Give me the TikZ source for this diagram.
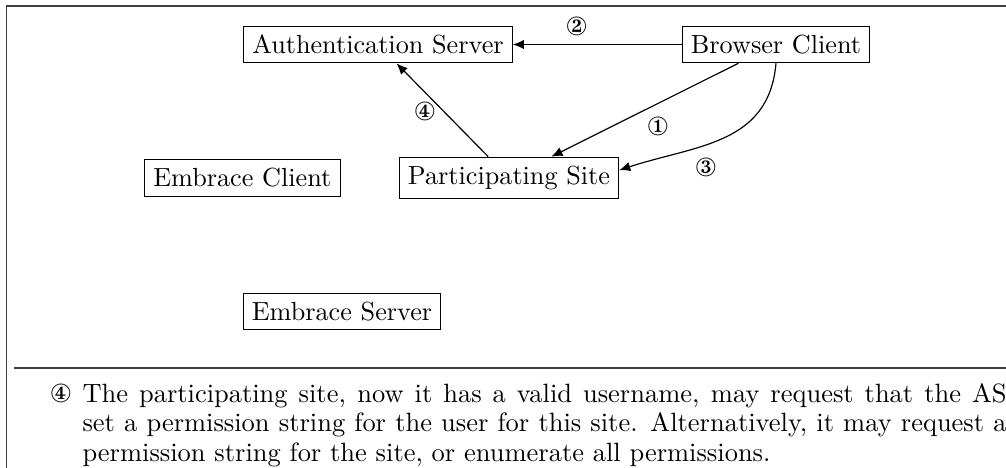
\documentclass[tikz,border=0pt]{standalone}
\usepackage{pifont}
\usetikzlibrary{arrows.meta}
\begin{document}
\begin{tikzpicture}[x=0.38168pt,y=0.38168pt,
  box/.style={draw, line width=0.4pt, inner sep=3.33pt},
  flow/.style={-{Latex[length=4.2pt,width=3.6pt]}, line width=0.45pt},
  num/.style={inner sep=0pt},
  rule/.style={line width=0.5pt, draw=black!75}]
\useasboundingbox (0,0) rectangle (1006,-468);
% frame and separator
\draw[rule] (6.5,-468) -- (6.5,-6) -- (1006,-6);
\draw[rule] (14,-368) -- (1006,-368);
% actors
\node[box] (as) at (378,-44.5) {Authentication Server};
\node[box] (bc) at (776,-44.5) {Browser Client};
\node[box] (ps) at (509,-177.8) {Participating Site};
\node[box] (ec) at (242.3,-177.8) {Embrace Client};
\node[box] (es) at (342,-311.5) {Embrace Server};
% message flow
\draw[flow] (bc) -- (as);
\draw[flow] (bc) -- (ps);
\draw[flow] (bc.south) to[out=-95,in=18,looseness=1.1] (ps.4);
\draw[flow] (ps) -- (as);
% step numbers
\node[num] (n1) at (658,-126.7) {\ding{172}};
\node[num] (n2) at (576.7,-26.7) {\ding{173}};
\node[num] (n3) at (706,-167.3) {\ding{174}};
\node[num] (n4) at (425,-111.7) {\ding{175}};
% explanation of step 4
\node[num, anchor=base] (c4) at (61,-402) {\ding{175}};
\node[num, anchor=base west, text width=352.7pt, align=justify,
      font={\fontsize{10.1}{11.3}\selectfont}] (txt) at (82,-402)
  {The participating site, now it has a valid username, may request that the AS\linebreak
   set a permission string for the user for this site. Alternatively, it may request a\linebreak
   permission string for the site, or enumerate all permissions.};
\end{tikzpicture}
\end{document}
